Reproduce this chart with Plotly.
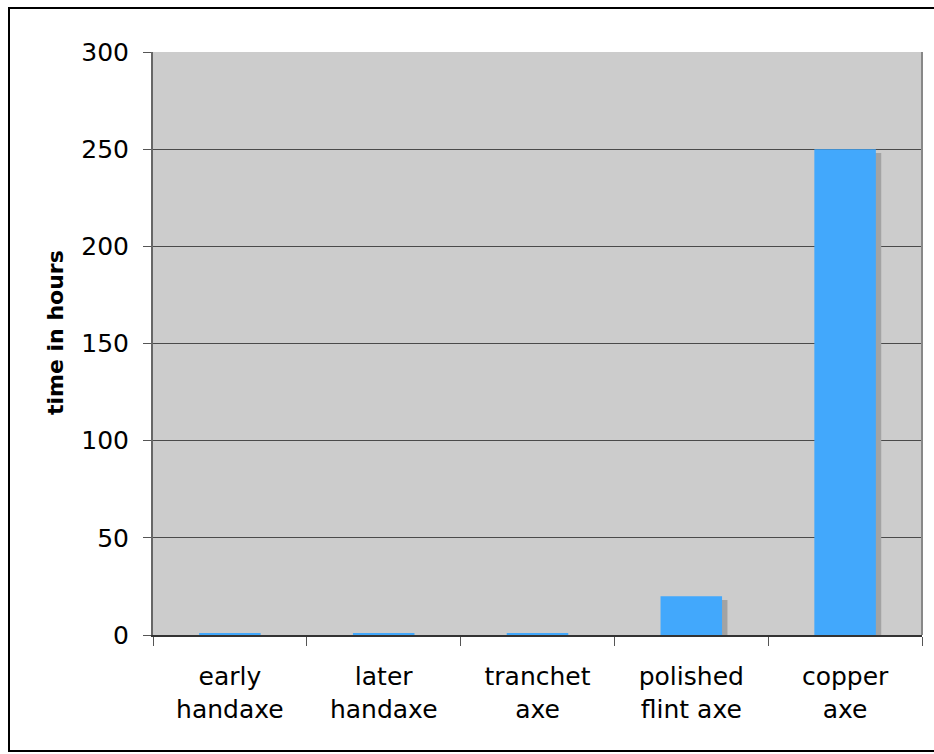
import plotly.graph_objects as go

categories = ["early<br>handaxe", "later<br>handaxe", "tranchet<br>axe", "polished<br>flint axe", "copper<br>axe"]
hours = [1, 1, 1, 20, 250]
shadow_drop = 2
y_ticks = [0, 50, 100, 150, 200, 250, 300]
y_title = "time in hours"

shadow_vals = [max(v - shadow_drop, 0) for v in hours]

fig = go.Figure()
fig.add_trace(go.Bar(x=categories, y=shadow_vals, width=0.4, offset=-0.2 + 0.035,
                     marker=dict(color="#a3a3a3", line=dict(width=0)), hoverinfo="skip"))
fig.add_trace(go.Bar(x=categories, y=hours, width=0.4, offset=-0.2,
                     marker=dict(color="#42a8fc", line=dict(width=0))))

fig.update_layout(
    width=934, height=754,
    margin=dict(l=153, r=12, t=52, b=119),
    barmode="overlay",
    showlegend=False,
    paper_bgcolor="white",
    plot_bgcolor="#cccccc",
    font=dict(family="DejaVu Sans", size=25, color="black"),
    xaxis=dict(type="category", tickson="boundaries", ticks="outside", ticklen=9,
               tickcolor="#555555", showgrid=False, showline=True, linecolor="#333333",
               linewidth=2, tickfont=dict(size=25), mirror=False, ticklabelstandoff=18),
    yaxis=dict(range=[0, 300], tickvals=y_ticks, ticks="outside", ticklen=8,
               tickcolor="#555555", showgrid=True, gridcolor="#4a4a4a", gridwidth=1,
               showline=True, linecolor="#666666", linewidth=2, zeroline=False,
               ticklabelstandoff=9, tickfont=dict(size=25)),
    annotations=[
        dict(text="<b>" + y_title + "</b>", xref="paper", yref="paper",
             x=(55 - 153) / 769, y=(635 - 333) / 583, xanchor="center", yanchor="middle",
             textangle=-90, showarrow=False, font=dict(size=22, color="black")),
    ],
    shapes=[
        dict(type="line", xref="paper", yref="paper", x0=1, x1=1, y0=0, y1=1,
             line=dict(color="#888888", width=2)),
        dict(type="rect", xref="paper", yref="paper",
             x0=(9 - 153) / 769, x1=(937 - 153) / 769,
             y0=(635 - 751) / 583, y1=(635 - 8) / 583,
             line=dict(color="black", width=2), fillcolor="rgba(0,0,0,0)", layer="below"),
    ],
)

fig.write_html("out.html")
